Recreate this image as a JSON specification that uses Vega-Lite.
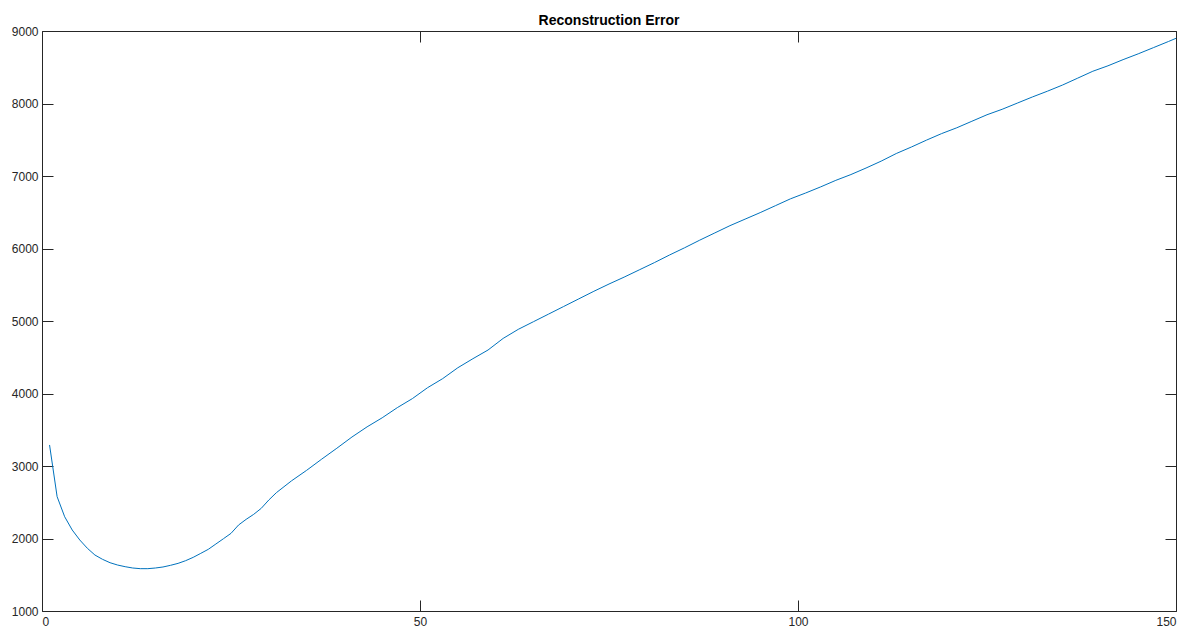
{
  "$schema": "https://vega.github.io/schema/vega-lite/v6.json",
  "autosize": "none",
  "width": 1134,
  "height": 580,
  "padding": {"left": 42, "top": 31, "right": 12, "bottom": 18},
  "background": "white",
  "title": {"text": "Reconstruction Error", "font": "Liberation Sans", "fontSize": 14, "fontWeight": "bold", "color": "#000000", "anchor": "middle", "offset": -3},
  "config": {
    "view": {"stroke": "#262626", "strokeWidth": 1},
    "axis": {"grid": false, "domain": false, "tickColor": "#262626", "labelColor": "#262626", "labelFont": "Liberation Sans", "labelFontSize": 12, "tickSize": 11, "offset": -11, "tickWidth": 1, "title": null, "format": "d"}
  },
  "data": {"values": [
    {"k": 1, "err": 3290}, {"k": 2, "err": 2577}, {"k": 3, "err": 2300}, {"k": 4, "err": 2117}, {"k": 5, "err": 1979},
    {"k": 6, "err": 1865}, {"k": 7, "err": 1772}, {"k": 8, "err": 1713}, {"k": 9, "err": 1666}, {"k": 10, "err": 1634},
    {"k": 11, "err": 1611}, {"k": 12, "err": 1593}, {"k": 13, "err": 1584}, {"k": 14, "err": 1584}, {"k": 15, "err": 1593},
    {"k": 16, "err": 1607}, {"k": 17, "err": 1630}, {"k": 18, "err": 1657}, {"k": 19, "err": 1694}, {"k": 20, "err": 1740},
    {"k": 21, "err": 1795}, {"k": 22, "err": 1851}, {"k": 23, "err": 1924}, {"k": 24, "err": 1997}, {"k": 25, "err": 2071},
    {"k": 26, "err": 2186}, {"k": 27, "err": 2264}, {"k": 28, "err": 2333}, {"k": 29, "err": 2416}, {"k": 30, "err": 2531},
    {"k": 31, "err": 2632}, {"k": 33, "err": 2795}, {"k": 35, "err": 2940}, {"k": 37, "err": 3095}, {"k": 39, "err": 3245},
    {"k": 41, "err": 3400}, {"k": 43, "err": 3540}, {"k": 45, "err": 3665}, {"k": 47, "err": 3805}, {"k": 49, "err": 3930},
    {"k": 51, "err": 4080}, {"k": 53, "err": 4205}, {"k": 55, "err": 4355}, {"k": 57, "err": 4480}, {"k": 59, "err": 4600},
    {"k": 61, "err": 4760}, {"k": 63, "err": 4885}, {"k": 65, "err": 4990}, {"k": 67, "err": 5095}, {"k": 69, "err": 5200},
    {"k": 71, "err": 5305}, {"k": 73, "err": 5410}, {"k": 75, "err": 5510}, {"k": 77, "err": 5605}, {"k": 79, "err": 5705},
    {"k": 81, "err": 5805}, {"k": 83, "err": 5910}, {"k": 85, "err": 6010}, {"k": 87, "err": 6115}, {"k": 89, "err": 6215},
    {"k": 91, "err": 6315}, {"k": 93, "err": 6405}, {"k": 95, "err": 6495}, {"k": 97, "err": 6590}, {"k": 99, "err": 6685},
    {"k": 101, "err": 6765}, {"k": 103, "err": 6850}, {"k": 105, "err": 6940}, {"k": 107, "err": 7020}, {"k": 109, "err": 7110},
    {"k": 111, "err": 7205}, {"k": 113, "err": 7310}, {"k": 115, "err": 7400}, {"k": 117, "err": 7495}, {"k": 119, "err": 7585},
    {"k": 121, "err": 7665}, {"k": 123, "err": 7755}, {"k": 125, "err": 7845}, {"k": 127, "err": 7920}, {"k": 129, "err": 8005},
    {"k": 131, "err": 8090}, {"k": 133, "err": 8170}, {"k": 135, "err": 8255}, {"k": 137, "err": 8350}, {"k": 139, "err": 8445},
    {"k": 141, "err": 8520}, {"k": 143, "err": 8605}, {"k": 145, "err": 8685}, {"k": 147, "err": 8770}, {"k": 149, "err": 8855},
    {"k": 150, "err": 8899}
  ]},
  "layer": [
    {
      "mark": {"type": "line", "color": "#0072BD", "strokeWidth": 1, "clip": true},
      "encoding": {
        "x": {"field": "k", "type": "quantitative", "scale": {"domain": [0, 150], "nice": false, "zero": false},
              "axis": {"orient": "bottom", "values": [0, 50, 100, 150], "labelPadding": 5}},
        "y": {"field": "err", "type": "quantitative", "scale": {"domain": [1000, 9000], "nice": false, "zero": false},
              "axis": {"orient": "left", "values": [1000, 2000, 3000, 4000, 5000, 6000, 7000, 8000, 9000], "labelPadding": 4}}
      }
    },
    {
      "mark": {"type": "line", "strokeOpacity": 0},
      "encoding": {
        "x": {"field": "k", "type": "quantitative", "scale": {"domain": [0, 150], "nice": false, "zero": false},
              "axis": {"orient": "top", "values": [0, 50, 100, 150], "labels": false}},
        "y": {"field": "err", "type": "quantitative", "scale": {"domain": [1000, 9000], "nice": false, "zero": false},
              "axis": {"orient": "right", "values": [1000, 2000, 3000, 4000, 5000, 6000, 7000, 8000, 9000], "labels": false}}
      }
    }
  ],
  "resolve": {"axis": {"x": "independent", "y": "independent"}}
}
